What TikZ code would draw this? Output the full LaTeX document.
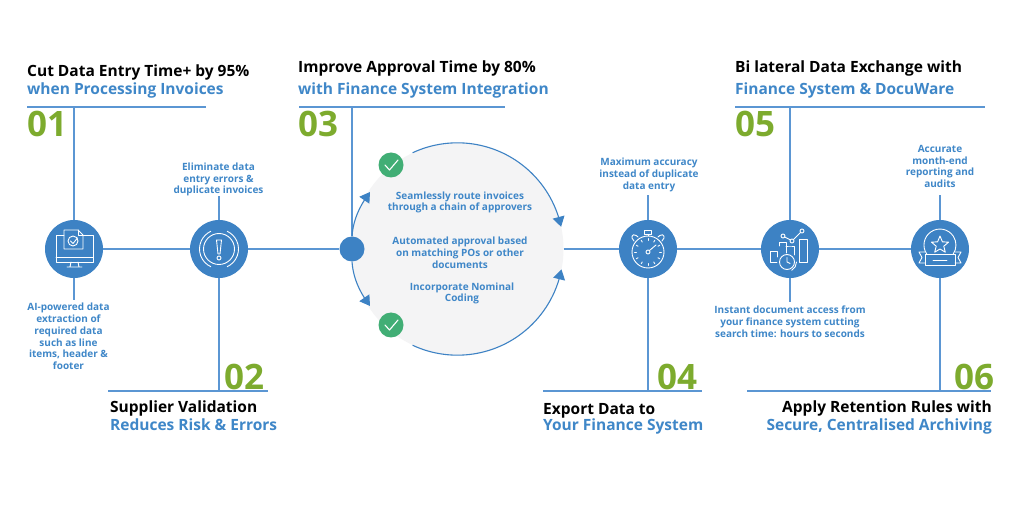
\documentclass[tikz,border=0pt]{standalone}
\usepackage{fontspec}
\setmainfont{Open Sans}
\usetikzlibrary{arrows.meta,bending}
\definecolor{bluefill}{HTML}{3D82C4}
\definecolor{blueline}{HTML}{5B96D3}
\definecolor{bluetext}{HTML}{3F87C8}
\definecolor{numgreen}{HTML}{7DAB2E}
\definecolor{okgreen}{HTML}{41AE75}
\definecolor{softgray}{HTML}{F4F4F5}
\tikzset{
  conn/.style={draw=blueline,line width=1.3pt},
  flow/.style={draw=bluefill,line width=1.1pt,-{Triangle[length=10pt,width=12pt,flex]}},
  hub/.style={circle,fill=bluefill,minimum size=58pt,inner sep=0pt},
  ttl/.style={anchor=base west,inner sep=0pt,font=\fontsize{15.5}{18}\selectfont\bfseries},
  ttlr/.style={ttl,anchor=base east},
  num/.style={anchor=base west,inner sep=0pt,text=numgreen,font=\fontsize{35}{36}\selectfont\bfseries},
  small/.style={align=center,inner sep=0pt,text=bluetext,font=\fontsize{10}{11.8}\selectfont\bfseries},
  ico/.style={draw=white,line width=0.9pt,line cap=round,line join=round},
  tick/.style={circle,fill=okgreen,minimum size=25pt,inner sep=0pt},
}
\begin{document}
\begin{tikzpicture}[x=1pt,y=-1pt]
\useasboundingbox (0,0) rectangle (1020,510);
\fill[white] (0,0) rectangle (1020,510);
% big circle and nodes
\node[circle,fill=softgray,minimum size=212pt,inner sep=0pt] (big) at (457.5,249) {};
\node[hub] (c1) at (74,249) {};
\node[hub] (c2) at (219,249) {};
\node[circle,fill=bluefill,minimum size=25pt,inner sep=0pt] (dot) at (352,249) {};
\node[hub] (c4) at (648,249) {};
\node[hub] (c5) at (790,249) {};
\node[hub] (c6) at (940,249) {};
\node[tick] (ok1) at (391,165) {};
\node[tick] (ok2) at (391,325) {};
\draw[white,line width=1.1pt,line cap=round,line join=round] (385,165) -- (389.5,170) -- (398,160);
\draw[white,line width=1.1pt,line cap=round,line join=round] (385,325) -- (389.5,330) -- (398,320);
% coordinates
\coordinate (r1a) at (27,107); \coordinate (r1b) at (206,107); \coordinate (t1) at (74,107);
\coordinate (r3a) at (299,107); \coordinate (r3b) at (505,107); \coordinate (t3) at (352,107);
\coordinate (r5a) at (735,107); \coordinate (r5b) at (985,107); \coordinate (t5) at (790,107);
\coordinate (r2a) at (108,391); \coordinate (r2b) at (268,391); \coordinate (b2) at (219,391);
\coordinate (r4a) at (543,391); \coordinate (r4b) at (702,391); \coordinate (b4) at (648,391);
\coordinate (r6a) at (747,391); \coordinate (r6b) at (991,391); \coordinate (b6) at (940,391);
\coordinate (e1) at (74,300); \coordinate (e2) at (219,196); \coordinate (e4) at (648,195);
\coordinate (e5) at (790,302); \coordinate (e6) at (940,195);
% connectors
\draw[conn] (r1a) -- (r1b); \draw[conn] (r3a) -- (r3b); \draw[conn] (r5a) -- (r5b);
\draw[conn] (r2a) -- (r2b); \draw[conn] (r4a) -- (r4b); \draw[conn] (r6a) -- (r6b);
\draw[conn] (c1) -- (t1); \draw[conn] (c1) -- (e1);
\draw[conn] (c1) -- (c2);
\draw[conn] (c2) -- (e2); \draw[conn] (c2) -- (b2);
\draw[conn] (c2) -- (dot); \draw[conn] (dot) -- (t3);
\draw[conn] (big) -- (c4);
\draw[conn] (c4) -- (e4); \draw[conn] (c4) -- (b4);
\draw[conn] (c4) -- (c5);
\draw[conn] (c5) -- (t5); \draw[conn] (c5) -- (e5);
\draw[conn] (c5) -- (c6);
\draw[conn] (c6) -- (e6); \draw[conn] (c6) -- (b6);
% arcs
\draw[flow] (big.115) arc[start angle=-115,end angle=-12,radius=106];
\draw[flow] (big.245) arc[start angle=115,end angle=11,radius=106];
\draw[flow] (dot.90) .. controls (353,222) and (358,208) .. (370,192);
\draw[flow] (dot.270) .. controls (353,276) and (358,290) .. (370,306);
% titles
\node[ttl] (h1a) at (27,77) {Cut Data Entry Time+ by 95\%};
\node[ttl,text=bluetext] (h1b) at (27,95) {when Processing Invoices};
\node[ttl] (h3a) at (298,73) {Improve Approval Time by 80\%};
\node[ttl,text=bluetext] (h3b) at (298,95) {with Finance System Integration};
\node[ttl] (h5a) at (735,73) {Bi lateral Data Exchange with};
\node[ttl,text=bluetext] (h5b) at (735,95) {Finance System \& DocuWare};
\node[ttl] (h2a) at (110,413) {Supplier Validation};
\node[ttl,text=bluetext] (h2b) at (110,431) {Reduces Risk \& Errors};
\node[ttl] (h4a) at (543,414) {Export Data to};
\node[ttl,text=bluetext] (h4b) at (543,431) {Your Finance System};
\node[ttlr] (h6a) at (992,413) {Apply Retention Rules with};
\node[ttlr,text=bluetext] (h6b) at (992,431) {Secure, Centralised Archiving};
% numbers
\node[num] (n1) at (27,137) {01};
\node[num] (n2) at (224,389.5) {02};
\node[num] (n3) at (298,137) {03};
\node[num] (n4) at (657,389.5) {04};
\node[num] (n5) at (735,137) {05};
\node[num] (n6) at (954,389.5) {06};
% small labels
\node[small] (l1) at (68.5,336.5) {AI-powered data\\extraction of\\required data\\such as line\\items, header \&\\footer};
\node[small] (l2) at (218.5,179.5) {Eliminate data\\entry errors \&\\duplicate invoices};
\node[small] (l4) at (649,175) {Maximum accuracy\\instead of duplicate\\data entry};
\node[small] (l5) at (790,322) {Instant document access from\\your finance system cutting\\search time: hours to seconds};
\node[small] (l6) at (940,166.5) {Accurate\\month-end\\reporting and\\audits};
\node[small] (m1) at (460,202.5) {Seamlessly route invoices\\through a chain of approvers};
\node[small] (m2) at (460,252.5) {Automated approval based\\on matching POs or other\\documents};
\node[small] (m3) at (462,293.5) {Incorporate Nominal\\Coding};
% icon 1: monitor with document
\begin{scope}[shift={(74,249)}]
\draw[ico] (-10,-14) -- (-18,-14) -- (-18,13) -- (19,13) -- (19,-14) -- (9,-14);
\draw[ico] (-18,8) -- (19,8);
\draw[ico] (-3,13) -- (-4,18) (4,13) -- (5,18) (-7,18) -- (8,18);
\draw[ico] (-10,0) -- (-10,-19) -- (4,-19) -- (9,-14) -- (9,0) -- cycle;
\draw[ico] (4,-19) -- (4,-14) -- (9,-14);
\draw[ico] (-1,-8) circle (5);
\draw[ico] (-3.5,-8) -- (-1,-5.5) -- (3.5,-11);
\end{scope}
% icon 2: warning
\begin{scope}[shift={(219,249)}]
\draw[ico] (0,0) circle (15.5);
\draw[ico] (115:19.5) arc[start angle=115,end angle=245,radius=19.5];
\draw[ico] (65:19.5) arc[start angle=65,end angle=-65,radius=19.5];
\draw[ico] (-2.5,-9) -- (2.5,-9) -- (1,5) -- (-1,5) -- cycle;
\draw[ico] (0,9) circle (2);
\end{scope}
% icon 4: stopwatch
\begin{scope}[shift={(648,252)}]
\draw[ico] (0,0) circle (16);
\draw[ico] (-3.5,-21.5) rectangle (3.5,-17.5);
\draw[ico] (0,-17.5) -- (0,-16);
\draw[ico] (-14,-11) -- (-16,-14) arc[start angle=-200,end angle=-40,radius=2.5] -- (-10,-15);
\draw[ico] (14,-11) -- (16,-14) arc[start angle=20,end angle=-140,radius=2.5] -- (10,-15);
\foreach \a in {0,30,...,330} \draw[ico] (\a:11.5) -- (\a:13.5);
\draw[ico] (0,0) circle (2);
\draw[ico] (1.5,-1.5) -- (8,-7);
\end{scope}
% icon 5: chart with clock
\begin{scope}[shift={(790,249)}]
\draw[ico] (-13,13) -- (-20,13) -- (-20,2) -- (-13,2) -- (-13,8);
\draw[ico] (-11,-3) -- (-11,-7) -- (-4,-7) -- (-4,4);
\draw[ico] (-4,-3) -- (0,-3) -- (4,-3) -- (4,6);
\draw[ico] (9,-10) -- (17,-10) -- (17,13) -- (9,13) -- cycle;
\draw[ico] (-7,-13) circle (2) (2,-8) circle (2) (12,-18) circle (2);
\draw[ico] (-5.5,-12) -- (0.5,-9) (3.5,-9.5) -- (10.5,-16.5);
\draw[ico] (-3,13) circle (7.5);
\draw[ico] (-3,8.5) -- (-3,13) -- (0,14.5);
\draw[ico] (1.75,21.2) arc[start angle=60,end angle=0,radius=9.5];
\end{scope}
% icon 6: award
\begin{scope}[shift={(940,249)}]
\draw[ico] (-13.3,5) arc[start angle=146,end angle=394,radius=16];
\draw[ico] (0,-13) -- (2.4,-7.2) -- (8.5,-6.8) -- (3.8,-2.8) -- (5.3,3.2) -- (0,0) -- (-5.3,3.2) -- (-3.8,-2.8) -- (-8.5,-6.8) -- (-2.4,-7.2) -- cycle;
\draw[ico] (-15,5) rectangle (15,16);
\draw[ico] (-7,11) -- (7,11);
\draw[ico] (-15,3) -- (-21,3) -- (-18,8.5) -- (-21,14) -- (-15,14);
\draw[ico] (15,3) -- (21,3) -- (18,8.5) -- (21,14) -- (15,14);
\end{scope}
\end{tikzpicture}
\end{document}
